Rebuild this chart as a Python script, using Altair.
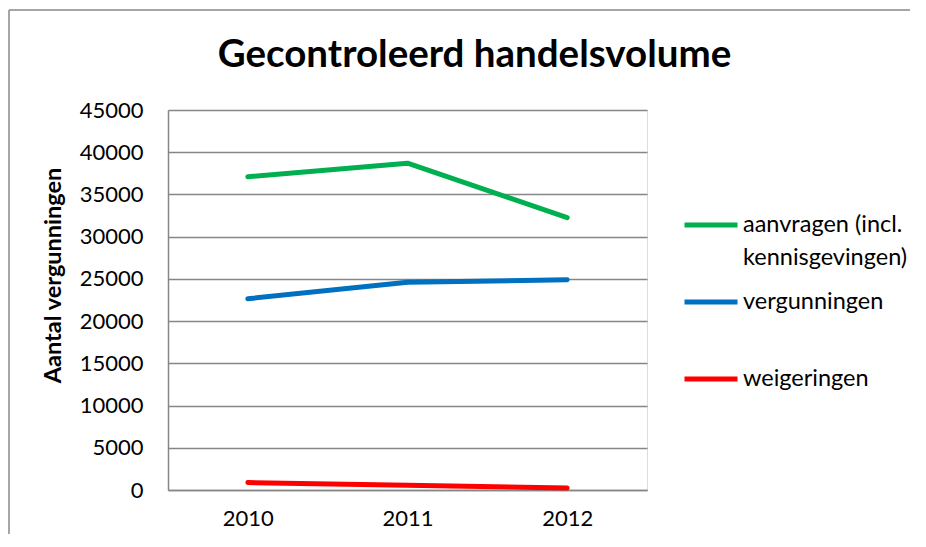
import altair as alt
import pandas as pd

years = ["2010", "2011", "2012"]
aanvragen = [37100, 38700, 32250]
vergunningen = [22650, 24600, 24900]
weigeringen = [880, 560, 240]
series = ["aanvragen (incl. kennisgevingen)", "vergunningen", "weigeringen"]
colors = ["#00B050", "#0070C0", "#FF0000"]
y_ticks = list(range(0, 45001, 5000))

rows = []
for name, vals in zip(series, [aanvragen, vergunningen, weigeringen]):
    for yr, v in zip(years, vals):
        rows.append({"jaar": yr, "reeks": name, "waarde": v})
df = pd.DataFrame(rows)

FONT = "Lato"
label_expr = ("datum.label == 'aanvragen (incl. kennisgevingen)' ? "
              "['aanvragen (incl.', 'kennisgevingen)'] : [datum.label, '']")

lines = alt.Chart(df).mark_line(strokeWidth=5, strokeCap="round", strokeJoin="round").encode(
    x=alt.X("jaar:N", sort=years, scale=alt.Scale(type="point", padding=0.5),
            axis=alt.Axis(title=None, labelAngle=0, ticks=False, grid=False,
                          domainColor="#868686", domainWidth=1.5, labelPadding=18,
                          labelFontSize=22, labelFont=FONT, labelColor="#000")),
    y=alt.Y("waarde:Q", scale=alt.Scale(domain=[0, 45000], nice=False),
            axis=alt.Axis(values=y_ticks, format="d", title="Aantal vergunningen", ticks=False,
                          grid=True, gridColor="#868686", gridWidth=1.5,
                          domainColor="#868686", domainWidth=1.5,
                          labelPadding=25, labelFontSize=22, labelFont=FONT, labelColor="#000",
                          titleFont=FONT, titleFontSize=23.5, titleFontWeight="bold",
                          titleColor="#000", titlePadding=14, titleY=165)),
    color=alt.Color("reeks:N", sort=series, scale=alt.Scale(domain=series, range=colors),
                    legend=alt.Legend(orient="none", legendX=514, legendY=86, title=None,
                                      symbolType="stroke", symbolSize=2809, symbolStrokeWidth=5,
                                      labelExpr=label_expr, labelFont=FONT, labelFontSize=23.5,
                                      labelColor="#000", labelLimit=0, labelBaseline="middle",
                                      labelOffset=3, rowPadding=3)),
)

frame_df = pd.DataFrame({"k": [0]})
left_border = alt.Chart(frame_df).mark_rule(color="#888888", strokeWidth=1.5).encode(
    x=alt.value(-159), y=alt.value(-100), y2=alt.value(440))
top_border = alt.Chart(frame_df).mark_rule(color="#888888", strokeWidth=1.5).encode(
    x=alt.value(-159), x2=alt.value(760), y=alt.value(-100))

chart = alt.layer(left_border, top_border, lines).properties(
    width=479, height=380,
    padding={"left": 160, "top": 102, "right": 263, "bottom": 44},
    autosize=alt.AutoSizeParams(type="none"),
    title=alt.Title("Gecontroleerd handelsvolume", font=FONT, fontSize=38.5, fontWeight="bold",
                    anchor="middle", frame="group", dx=67, offset=-66, color="#000"),
).configure_view(stroke="#000", strokeWidth=1.5).configure(
    background="white", style={"guide-label": {"lineHeight": 33}})

chart.save("out.html", embed_options={"renderer": "svg", "actions": False})
